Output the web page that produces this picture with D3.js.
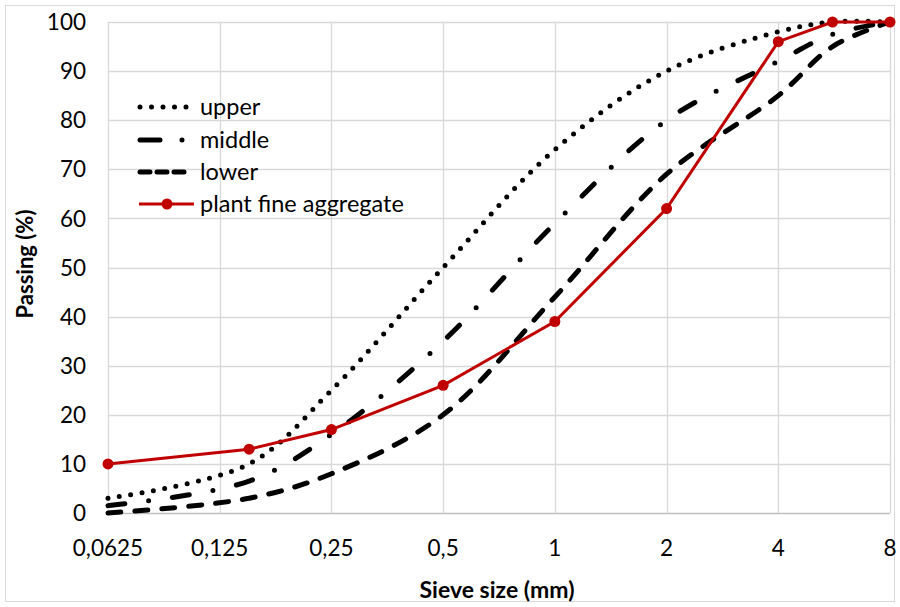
<!DOCTYPE html>
<html>
<head>
<meta charset="utf-8">
<script src="https://cdn.jsdelivr.net/npm/d3@7"></script>
<style>
  body { margin: 0; background: #fff; }
  text { font-family: Lato, "Open Sans", sans-serif; fill: #000; }
</style>
</head>
<body>
<div id="chart"></div>
<script>
const width = 900, height = 607;

// data
const sieveSizes = [0.0625, 0.15, 0.25, 0.5, 1, 2, 4, 5.6, 8];
const upper = [3, 10, 25, 50, 74, 90, 98, 100, 100];
const middle = [1.5, 6.5, 16, 35, 59, 80, 92, 97.5, 100];
const lower = [0, 3, 8, 20, 44, 69, 85, 95, 100];
const plant = [10, 13, 17, 26, 39, 62, 96, 100, 100];
const xTicks = [0.0625, 0.125, 0.25, 0.5, 1, 2, 4, 8];
const xTickLabels = ["0,0625", "0,125", "0,25", "0,5", "1", "2", "4", "8"];
const yTicks = [0, 10, 20, 30, 40, 50, 60, 70, 80, 90, 100];

const margin = { top: 22, right: 10, bottom: 94, left: 108 };

const svg = d3.select("#chart")
    .append("svg")
    .attr("width", width)
    .attr("height", height);

// chart area border
svg.append("rect")
    .attr("x", 5.5).attr("y", 5.5)
    .attr("width", width - 11).attr("height", height - 11)
    .attr("fill", "none")
    .attr("stroke", "#d9d9d9")
    .attr("stroke-width", 1);

const x = d3.scaleLog().base(2)
    .domain([0.0625, 8])
    .range([margin.left, 890]);

const y = d3.scaleLinear()
    .domain([0, 100])
    .range([513, margin.top]);

// grid
svg.append("g")
    .selectAll("line")
    .data(yTicks)
    .join("line")
    .attr("x1", x(0.0625)).attr("x2", x(8))
    .attr("y1", d => Math.round(y(d)) + 0.5)
    .attr("y2", d => Math.round(y(d)) + 0.5)
    .attr("stroke", d => d == 0 ? "#bfbfbf" : "#d9d9d9")
    .attr("stroke-width", 1.3);

svg.append("g")
    .selectAll("line")
    .data(xTicks)
    .join("line")
    .attr("x1", d => Math.round(x(d)) + 0.5)
    .attr("x2", d => Math.round(x(d)) + 0.5)
    .attr("y1", y(0)).attr("y2", y(100))
    .attr("stroke", "#d9d9d9")
    .attr("stroke-width", 1.3);

// tick labels
svg.append("g")
    .selectAll("text")
    .data(yTicks)
    .join("text")
    .attr("x", 86)
    .attr("y", d => y(d))
    .attr("dy", "0.36em")
    .attr("text-anchor", "end")
    .style("font-size", "22.5px")
    .text(d => d);

svg.append("g")
    .selectAll("text")
    .data(xTicks)
    .join("text")
    .attr("x", d => x(d))
    .attr("y", 548)
    .attr("dy", "0.36em")
    .attr("text-anchor", "middle")
    .style("font-size", "22.5px")
    .text((d, i) => xTickLabels[i]);

// axis titles
svg.append("text")
    .attr("x", 497)
    .attr("y", 590)
    .attr("dy", "0.36em")
    .attr("text-anchor", "middle")
    .style("font-size", "23px")
    .style("font-weight", "bold")
    .text("Sieve size (mm)");

svg.append("text")
    .attr("transform", "translate(25, 264) rotate(-90)")
    .attr("dy", "0.36em")
    .attr("text-anchor", "middle")
    .style("font-size", "22px")
    .style("font-weight", "bold")
    .text("Passing (%)");

const smooth = d3.line()
    .x((d, i) => x(sieveSizes[i]))
    .y(d => y(d))
    .curve(d3.curveCatmullRom.alpha(0.5));

const straight = d3.line()
    .x((d, i) => x(sieveSizes[i]))
    .y(d => y(d));

const styles = [
    { name: "upper", values: upper, dash: "0 11.5" },
    { name: "middle", values: middle, dash: "17 24 0 24" },
    { name: "lower", values: lower, dash: "13 14" }
];

styles.forEach(s => {
    svg.append("path")
        .datum(s.values)
        .attr("d", smooth)
        .attr("fill", "none")
        .attr("stroke", "#000")
        .attr("stroke-width", 5)
        .attr("stroke-linecap", "round")
        .attr("stroke-dasharray", s.dash);
});

svg.append("path")
    .datum(plant)
    .attr("d", straight)
    .attr("fill", "none")
    .attr("stroke", "#c00000")
    .attr("stroke-width", 3);

svg.append("g")
    .selectAll("circle")
    .data(plant)
    .join("circle")
    .attr("cx", (d, i) => x(sieveSizes[i]))
    .attr("cy", d => y(d))
    .attr("r", 5.5)
    .attr("fill", "#c00000");

// legend
const legend = svg.append("g");
const legendRows = [
    { label: "upper", dash: "0 11.5", y: 107 },
    { label: "middle", dash: "20 22 0 30", y: 140 },
    { label: "lower", dash: "10 7", y: 172 },
    { label: "plant fine aggregate", dash: null, y: 204 }
];

legendRows.forEach(r => {
    if (r.dash) {
        legend.append("line")
            .attr("x1", 140).attr("x2", 191)
            .attr("y1", r.y).attr("y2", r.y)
            .attr("stroke", "#000")
            .attr("stroke-width", 5)
            .attr("stroke-linecap", "round")
            .attr("stroke-dasharray", r.dash);
    } else {
        legend.append("line")
            .attr("x1", 139).attr("x2", 194)
            .attr("y1", r.y).attr("y2", r.y)
            .attr("stroke", "#c00000")
            .attr("stroke-width", 3);
        legend.append("circle")
            .attr("cx", 167).attr("cy", r.y)
            .attr("r", 5.5)
            .attr("fill", "#c00000");
    }
    legend.append("text")
        .attr("x", 200)
        .attr("y", r.y)
        .attr("dy", "0.36em")
        .style("font-size", "23.5px")
        .text(r.label);
});
</script>
</body>
</html>
